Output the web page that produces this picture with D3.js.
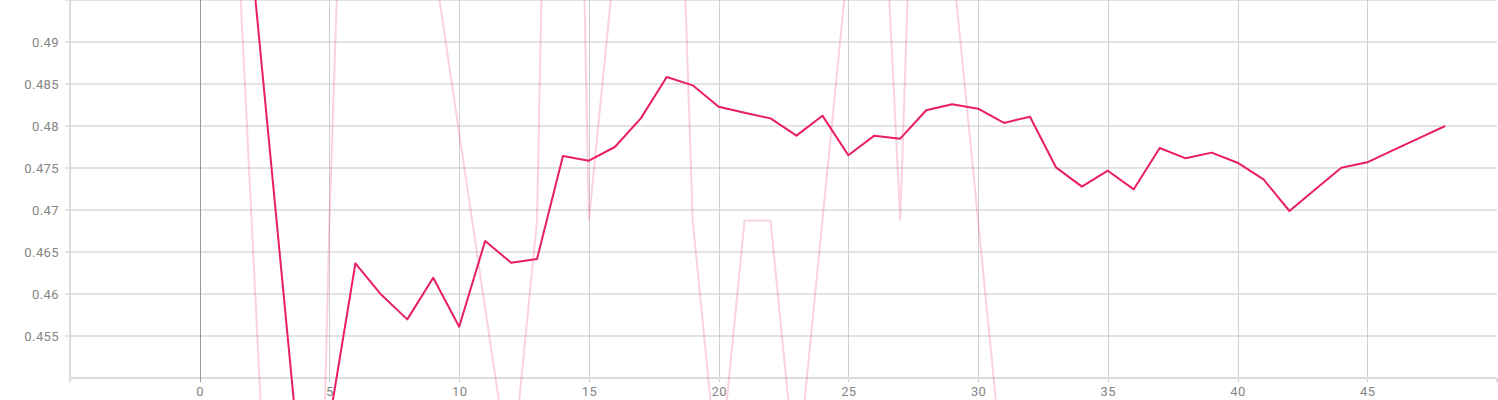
<!DOCTYPE html>
<html>
<head>
<meta charset="utf-8">
<script src="https://cdn.jsdelivr.net/npm/d3@7"></script>
<style>
  html, body { margin: 0; padding: 0; background: #fff; }
  svg { display: block; }
</style>
</head>
<body>
<svg id="chart" width="1498" height="400"></svg>
<script>
// ---- data ----
const smoothedSteps = d3.range(0, 49);
const smoothedValues = [0.5313, 0.532, 0.4998, 0.4675, 0.4352, 0.4449, 0.46365, 0.4599, 0.45698, 0.46194,
  0.45611, 0.46631, 0.46373, 0.46417, 0.47643, 0.47587, 0.4775, 0.48091, 0.48583, 0.48484,
  0.4823, 0.48158, 0.48091, 0.47885, 0.48123, 0.47651, 0.47885, 0.47849, 0.48187, 0.48258,
  0.48206, 0.48036, 0.48111, 0.47508, 0.47278, 0.47468, 0.47246, 0.47738, 0.47615, 0.47683,
  0.47563, 0.47365, 0.46988, 0.47248, 0.47504, 0.47568, 0.47712, 0.47856, 0.48];
const rawSteps = d3.range(0, 32);
const rawValues = [0.53125, 0.53125, 0.46875, 0.40625, 0.34375, 0.46875, 0.5625, 0.5625, 0.53125, 0.5,
  0.47917, 0.45833, 0.4375, 0.46875, 0.625, 0.46875, 0.5, 0.53125, 0.5625, 0.46875,
  0.4375, 0.46875, 0.46875, 0.4375, 0.46875, 0.5, 0.53125, 0.46875, 0.5625, 0.5,
  0.46875, 0.4375];
const xTickValues = [0, 5, 10, 15, 20, 25, 30, 35, 40, 45];
const yTickValues = [0.455, 0.46, 0.465, 0.47, 0.475, 0.48, 0.485, 0.49];
const yTickLabels = ["0.455", "0.46", "0.465", "0.47", "0.475", "0.48", "0.485", "0.49"];

// ---- layout ----
const pL = 70, pR = 1497, pT = 0, pB = 378;
const svg = d3.select("#chart");
const x = d3.scaleLinear().domain([-5, 50]).range([pL, pR]);
const y = d3.scaleLinear().domain([0.45, 0.495]).range([pB, pT]);

function styleText(g) {
  g.selectAll("text")
    .attr("font-family", "Roboto, 'Noto Sans', sans-serif")
    .attr("font-size", 13)
    .attr("letter-spacing", "0.4px")
    .attr("fill", "#858585");
}

// horizontal gridlines
svg.append("g").selectAll("line").data(yTickValues.concat([0.495]))
  .join("line")
  .attr("x1", pL - 5).attr("x2", pR)
  .attr("y1", d => Math.round(y(d))).attr("y2", d => Math.round(y(d)))
  .attr("stroke", "#e3e3e3").attr("stroke-width", 2);

const yLabels = svg.append("g").attr("transform", `translate(${pL},0)`)
  .call(d3.axisLeft(y).tickValues(yTickValues).tickSize(0).tickPadding(11)
    .tickFormat((d, i) => yTickLabels[i]));
yLabels.select(".domain").remove();
yLabels.attr("font-size", null).attr("font-family", null);
styleText(yLabels);

// vertical gridlines
svg.append("g").selectAll("line").data(xTickValues.filter(d => d !== 0))
  .join("line")
  .attr("x1", d => Math.round(x(d)) + 0.5).attr("x2", d => Math.round(x(d)) + 0.5)
  .attr("y1", pT).attr("y2", pB + 4)
  .attr("stroke", "#cfcfcf").attr("stroke-width", 1);

// axis frame
svg.append("line").attr("x1", pL).attr("x2", pL).attr("y1", pT).attr("y2", pB + 4)
  .attr("stroke", "#dcdcdc").attr("stroke-width", 2);
svg.append("line").attr("x1", pL).attr("x2", pR).attr("y1", pB).attr("y2", pB)
  .attr("stroke", "#dcdcdc").attr("stroke-width", 2);
svg.append("line").attr("x1", pR).attr("x2", pR).attr("y1", pB).attr("y2", pB + 4)
  .attr("stroke", "#dcdcdc").attr("stroke-width", 2);

// zero line
svg.append("line").attr("x1", Math.round(x(0)) + 0.5).attr("x2", Math.round(x(0)) + 0.5)
  .attr("y1", pT).attr("y2", pB + 4)
  .attr("stroke", "#999").attr("stroke-width", 1);

// x labels
const xLabels = svg.append("g").attr("transform", `translate(0,${pB})`)
  .call(d3.axisBottom(x).tickValues(xTickValues).tickSize(0).tickPadding(9).tickFormat(d3.format("d")));
xLabels.select(".domain").remove();
xLabels.attr("font-size", null).attr("font-family", null);
styleText(xLabels);

// lines
const line = d3.line().x(d => x(d[0])).y(d => y(d[1]));
svg.append("path")
  .datum(rawSteps.map((s, i) => [s, rawValues[i]]))
  .attr("d", line).attr("fill", "none")
  .attr("stroke", "#e91e63").attr("stroke-opacity", 0.2).attr("stroke-width", 2);
svg.append("path")
  .datum(smoothedSteps.map((s, i) => [s, smoothedValues[i]]))
  .attr("d", line).attr("fill", "none")
  .attr("stroke", "#e91e63").attr("stroke-width", 2).attr("stroke-linejoin", "round");
</script>
</body>
</html>
